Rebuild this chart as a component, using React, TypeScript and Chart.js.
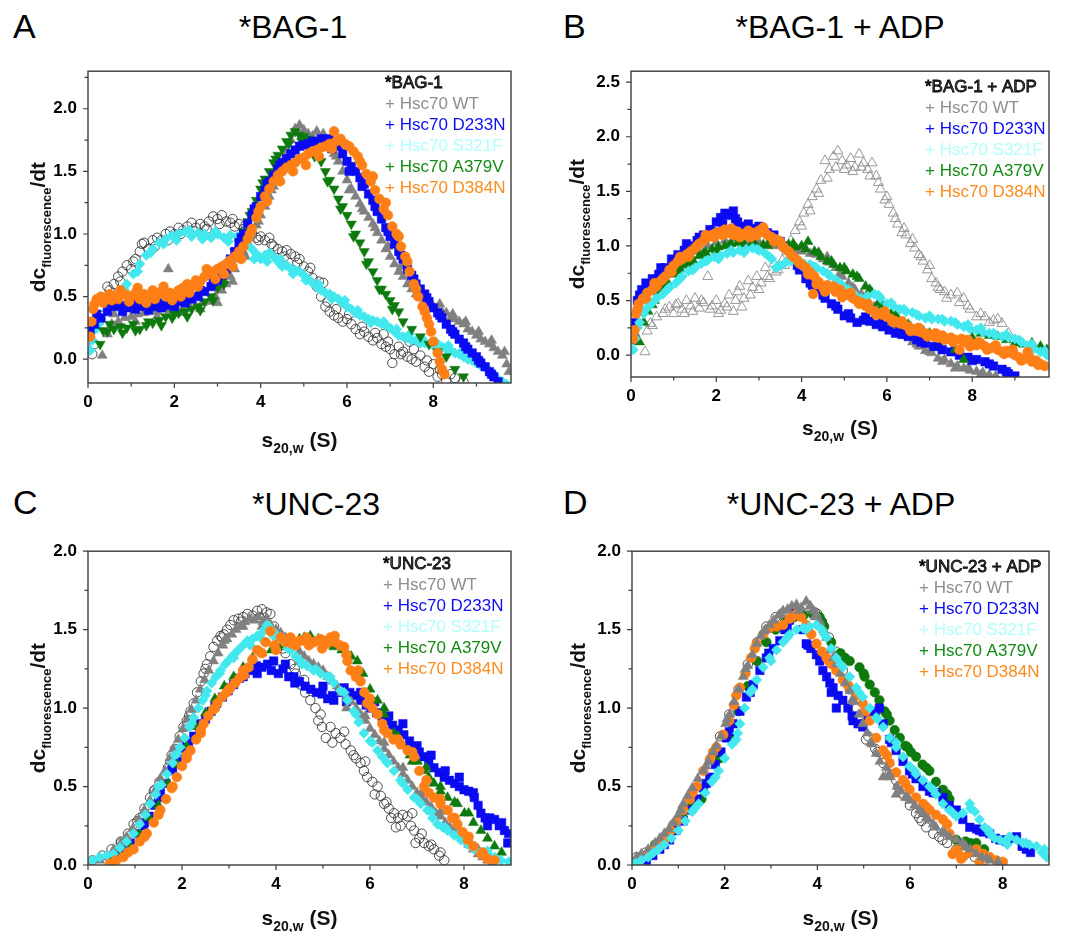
import React, { useEffect, useRef } from "react";
import { Chart, registerables } from "chart.js";
Chart.register(...registerables);

const FONT = "'Liberation Sans', Arial, Helvetica, sans-serif";

// ---------- tick values ----------
const X_MAJOR = [0, 2, 4, 6, 8];
const X_MINOR = [1, 3, 5, 7, 9];
const Y_MAJOR_A = [0, 0.5, 1, 1.5, 2];
const Y_MINOR_A = [0.25, 0.75, 1.25, 1.75, 2.25];
const Y_MAJOR_B = [0, 0.5, 1, 1.5, 2, 2.5];
const Y_MINOR_B = [0.25, 0.75, 1.25, 1.75, 2.25];
const Y_MAJOR_CD = [0, 0.5, 1, 1.5, 2];
const Y_MINOR_CD = [0.25, 0.75, 1.25, 1.75];

// ---------- legend ----------
const LEGEND_LINES = ["+ Hsc70 WT", "+ Hsc70 D233N", "+ Hsc70 S321F", "+ Hsc70 A379V", "+ Hsc70 D384N"];
const LEGEND_COLORS = ["#8e8e8e", "#0c0cf5", "#b2ffff", "#138a13", "#ff8a1e"];

// ---------- Panel A: *BAG-1 ----------
const A_REF = [[0.1,0.04],[0.15,0.12],[0.25,0.3],[0.3,0.42],[0.4,0.48],[0.5,0.55],[0.6,0.6],[0.7,0.66],[0.8,0.7],[0.9,0.75],[1.0,0.72],[1.1,0.8],[1.2,0.86],[1.3,0.93],[1.4,0.88],[1.5,0.95],[1.6,0.97],[1.7,0.95],[1.8,1.0],[1.9,1.02],[2.0,1.0],[2.1,1.05],[2.2,1.03],[2.3,1.06],[2.4,1.09],[2.5,1.05],[2.6,1.08],[2.7,1.06],[2.8,1.1],[2.9,1.14],[3.0,1.12],[3.1,1.15],[3.2,1.1],[3.3,1.09],[3.4,1.06],[3.5,1.08],[3.6,1.04],[3.7,1.02],[3.8,1.0],[3.9,0.97],[4.0,0.98],[4.1,0.95],[4.2,0.97],[4.3,0.9],[4.4,0.88],[4.5,0.86],[4.6,0.87],[4.7,0.84],[4.8,0.82],[4.9,0.8],[5.0,0.74],[5.1,0.7],[5.2,0.65],[5.3,0.58],[5.45,0.61],[5.4,0.5],[5.5,0.42],[5.6,0.38],[5.7,0.35],[5.8,0.33],[5.9,0.3],[6.0,0.32],[6.1,0.28],[6.2,0.24],[6.3,0.2],[6.4,0.22],[6.5,0.18],[6.6,0.15],[6.7,0.17],[6.8,0.12],[6.85,0.2],[6.9,0.1],[7.0,0.08],[7.05,-0.03],[7.1,0.04],[7.2,0.1],[7.3,0.06],[7.4,0.02],[7.45,0.14],[7.5,0.0],[7.6,-0.02],[7.7,0.03],[7.8,-0.06],[7.9,-0.1],[8.0,-0.04],[8.1,-0.14],[8.2,-0.12],[8.3,-0.17],[8.5,-0.15],[8.7,-0.18]];
const A_REF_2 = [[0.45,0.58],[0.75,0.62],[1.05,0.78],[1.25,0.92],[1.55,0.9],[1.85,0.95],[2.15,1.0],[2.45,1.02],[2.75,1.04],[3.05,1.08],[3.35,1.12],[3.65,1.07],[3.95,0.95],[4.25,0.92],[4.55,0.82],[4.85,0.77],[5.15,0.73],[5.35,0.62],[5.55,0.46],[5.75,0.4],[6.05,0.36],[6.35,0.26],[6.65,0.21],[6.95,0.14],[7.25,0.04],[7.55,0.08],[7.85,-0.01],[8.15,-0.08],[8.4,-0.12]];
const A_WT = [[0.33,0.03],[0.45,0.2],[0.55,0.28],[0.7,0.3],[0.85,0.33],[1.0,0.34],[1.15,0.36],[1.3,0.37],[1.45,0.39],[1.6,0.38],[1.75,0.4],[1.86,0.72],[1.9,0.39],[2.05,0.41],[2.2,0.4],[2.35,0.43],[2.5,0.42],[2.65,0.45],[2.8,0.46],[2.95,0.5],[3.1,0.55],[3.2,0.6],[3.3,0.66],[3.4,0.72],[3.5,0.8],[3.6,0.86],[3.7,0.92],[3.8,1.0],[3.9,1.07],[4.0,1.15],[4.1,1.22],[4.2,1.3],[4.3,1.38],[4.4,1.47],[4.5,1.56],[4.6,1.65],[4.7,1.75],[4.8,1.84],[4.9,1.87],[5.0,1.83],[5.1,1.8],[5.2,1.78],[5.3,1.82],[5.4,1.76],[5.5,1.72],[5.6,1.7],[5.7,1.64],[5.8,1.58],[5.9,1.5],[6.0,1.43],[6.1,1.36],[6.2,1.3],[6.3,1.24],[6.4,1.18],[6.5,1.13],[6.6,1.08],[6.7,1.01],[6.8,0.95],[6.9,0.88],[7.0,0.82],[7.1,0.76],[7.2,0.7],[7.3,0.66],[7.4,0.6],[7.5,0.56],[7.6,0.52],[7.7,0.5],[7.8,0.47],[7.9,0.44],[8.0,0.42],[8.1,0.4],[8.2,0.38],[8.3,0.37],[8.4,0.33],[8.5,0.32],[8.6,0.3],[8.7,0.28],[8.8,0.24],[8.9,0.22],[9.0,0.19],[9.1,0.16],[9.2,0.14],[9.3,0.12],[9.4,0.09],[9.5,0.06],[9.6,0.03],[9.7,-0.04],[9.75,-0.1]];
const A_WT_2 = [[0.6,0.36],[1.1,0.3],[1.6,0.34],[2.1,0.37],[2.6,0.4],[3.0,0.45],[3.35,0.62],[3.65,0.82],[3.95,1.1],[4.25,1.35],[4.55,1.6],[4.85,1.82],[5.15,1.76],[5.45,1.8],[5.75,1.62],[6.05,1.35],[6.35,1.2],[6.65,1.05],[6.95,0.9],[7.25,0.74],[7.55,0.6],[7.85,0.5],[8.15,0.44],[8.45,0.36],[8.75,0.3],[9.05,0.22],[9.35,0.15],[9.65,0.06]];
const A_D233N = [[0.05,0.23],[0.15,0.28],[0.3,0.33],[0.45,0.38],[0.6,0.42],[0.75,0.43],[0.9,0.41],[1.05,0.44],[1.2,0.42],[1.35,0.44],[1.5,0.42],[1.65,0.45],[1.8,0.43],[1.95,0.45],[2.1,0.46],[2.25,0.45],[2.4,0.48],[2.55,0.5],[2.7,0.54],[2.85,0.58],[3.0,0.63],[3.1,0.67],[3.2,0.72],[3.3,0.8],[3.4,0.86],[3.5,0.93],[3.6,1.0],[3.7,1.08],[3.8,1.15],[3.9,1.22],[4.0,1.3],[4.1,1.35],[4.2,1.42],[4.3,1.47],[4.4,1.52],[4.5,1.57],[4.6,1.6],[4.7,1.64],[4.8,1.67],[4.9,1.7],[5.0,1.71],[5.1,1.72],[5.2,1.74],[5.3,1.73],[5.4,1.76],[5.5,1.75],[5.6,1.76],[5.7,1.72],[5.8,1.7],[5.9,1.64],[6.0,1.58],[6.1,1.54],[6.2,1.5],[6.3,1.45],[6.4,1.4],[6.5,1.32],[6.6,1.27],[6.7,1.18],[6.8,1.12],[6.9,1.05],[7.0,0.98],[7.1,0.92],[7.2,0.86],[7.3,0.8],[7.4,0.72],[7.5,0.67],[7.6,0.6],[7.7,0.56],[7.8,0.52],[7.9,0.46],[8.0,0.41],[8.1,0.37],[8.2,0.33],[8.3,0.28],[8.4,0.24],[8.5,0.2],[8.6,0.16],[8.7,0.13],[8.8,0.08],[8.9,0.05],[9.0,0.02],[9.1,-0.03],[9.2,-0.06],[9.3,-0.1],[9.4,-0.14],[9.5,-0.18]];
const A_D233N_2 = [[0.2,0.36],[0.5,0.45],[0.8,0.38],[1.1,0.4],[1.4,0.39],[1.7,0.41],[2.0,0.42],[2.3,0.49],[2.6,0.55],[2.9,0.62],[3.25,0.76],[3.55,0.97],[3.85,1.2],[4.15,1.4],[4.45,1.55],[5.25,1.7],[5.65,1.68],[6.05,1.5],[6.35,1.38],[6.65,1.22],[6.95,1.02],[7.25,0.83],[7.55,0.64],[7.85,0.49],[8.15,0.35],[8.45,0.22],[8.75,0.1],[9.05,-0.01],[9.35,-0.12]];
const A_S321F = [[0.05,0.07],[0.1,0.15],[0.18,0.24],[0.3,0.32],[0.45,0.39],[0.6,0.46],[0.75,0.52],[0.9,0.6],[1.05,0.68],[1.2,0.76],[1.35,0.83],[1.5,0.88],[1.65,0.93],[1.8,0.96],[1.95,0.99],[2.1,1.0],[2.25,1.02],[2.4,0.98],[2.55,1.01],[2.7,1.0],[2.85,0.97],[3.0,1.0],[3.15,0.97],[3.3,0.99],[3.45,0.98],[3.6,0.96],[3.7,0.92],[3.8,0.88],[3.9,0.84],[4.0,0.8],[4.1,0.83],[4.2,0.85],[4.3,0.82],[4.4,0.78],[4.5,0.74],[4.6,0.75],[4.7,0.72],[4.8,0.71],[4.9,0.7],[5.0,0.67],[5.1,0.64],[5.2,0.61],[5.3,0.58],[5.4,0.55],[5.5,0.53],[5.6,0.52],[5.7,0.5],[5.8,0.48],[5.9,0.45],[6.0,0.42],[6.1,0.4],[6.2,0.37],[6.3,0.35],[6.4,0.34],[6.5,0.32],[6.6,0.31],[6.7,0.3],[6.8,0.28],[6.9,0.27],[7.0,0.25],[7.1,0.22],[7.2,0.19],[7.3,0.18],[7.4,0.17],[7.5,0.15],[7.6,0.15],[7.7,0.13],[7.8,0.13],[7.9,0.12],[8.0,0.11],[8.1,0.1],[8.2,0.1],[8.3,0.08],[8.4,0.07],[8.5,0.05],[8.6,0.04],[8.7,0.02],[8.8,0.0],[8.9,-0.01],[9.0,-0.03],[9.1,-0.05],[9.2,-0.06],[9.3,-0.09],[9.4,-0.12],[9.5,-0.16],[9.6,-0.18],[9.7,-0.2]];
const A_S321F_2 = [[0.25,0.28],[0.55,0.42],[0.85,0.55],[1.15,0.7],[1.45,0.85],[1.75,0.92],[2.05,0.95],[2.35,1.03],[2.65,0.96],[2.95,1.02],[3.25,0.94],[3.55,0.99],[3.85,0.8],[4.15,0.78],[4.45,0.8],[4.75,0.68],[5.05,0.63],[5.35,0.6],[5.65,0.48],[5.95,0.47],[6.25,0.39],[6.55,0.29],[6.85,0.3],[7.15,0.24],[7.45,0.2],[7.75,0.16],[8.05,0.14],[8.35,0.11],[8.65,0.06],[8.95,0.0],[9.25,-0.08]];
const A_A379V = [[0.28,0.12],[0.35,0.23],[0.45,0.22],[0.6,0.24],[0.75,0.26],[0.9,0.25],[1.05,0.28],[1.2,0.24],[1.35,0.27],[1.5,0.29],[1.65,0.31],[1.8,0.34],[1.95,0.33],[2.1,0.37],[2.25,0.38],[2.4,0.4],[2.55,0.42],[2.7,0.46],[2.85,0.5],[3.0,0.57],[3.1,0.62],[3.2,0.7],[3.3,0.78],[3.4,0.86],[3.5,0.93],[3.6,1.02],[3.7,1.1],[3.8,1.18],[3.9,1.27],[4.0,1.36],[4.1,1.44],[4.2,1.5],[4.3,1.57],[4.4,1.63],[4.5,1.68],[4.6,1.74],[4.7,1.79],[4.8,1.82],[4.9,1.79],[5.0,1.78],[5.1,1.76],[5.2,1.72],[5.3,1.64],[5.4,1.58],[5.5,1.5],[5.6,1.43],[5.7,1.36],[5.8,1.28],[5.9,1.22],[6.0,1.15],[6.1,1.08],[6.2,1.0],[6.3,0.93],[6.4,0.86],[6.5,0.78],[6.6,0.7],[6.7,0.63],[6.8,0.56],[6.9,0.52],[7.0,0.47],[7.1,0.43],[7.2,0.38],[7.3,0.3],[7.5,0.24],[7.7,0.18],[7.9,0.12],[8.1,0.06],[8.3,0.02],[8.5,-0.08],[8.7,-0.14]];
const A_A379V_2 = [[0.5,0.28],[0.8,0.21],[1.1,0.23],[1.4,0.3],[1.7,0.27],[2.0,0.36],[2.3,0.34],[2.6,0.39],[2.9,0.47],[3.15,0.6],[3.45,0.84],[3.75,1.15],[4.05,1.41],[4.35,1.6],[4.65,1.72],[4.95,1.74],[5.25,1.62],[5.55,1.42],[5.85,1.2],[6.15,0.98],[6.45,0.76],[6.75,0.56],[7.05,0.4]];
const A_D384N = [[0.05,0.18],[0.08,0.3],[0.12,0.4],[0.2,0.48],[0.3,0.5],[0.4,0.49],[0.5,0.52],[0.6,0.5],[0.7,0.48],[0.8,0.53],[0.9,0.51],[1.0,0.5],[1.1,0.53],[1.2,0.48],[1.3,0.52],[1.4,0.5],[1.5,0.55],[1.6,0.52],[1.7,0.54],[1.8,0.5],[1.9,0.53],[2.0,0.52],[2.1,0.55],[2.2,0.57],[2.3,0.6],[2.4,0.58],[2.5,0.63],[2.6,0.62],[2.7,0.66],[2.8,0.68],[2.9,0.7],[3.0,0.72],[3.1,0.74],[3.2,0.76],[3.3,0.79],[3.4,0.82],[3.5,0.86],[3.6,0.9],[3.7,0.96],[3.8,1.04],[3.9,1.13],[4.0,1.22],[4.1,1.3],[4.2,1.36],[4.3,1.42],[4.4,1.47],[4.5,1.5],[4.6,1.53],[4.7,1.55],[4.8,1.57],[4.9,1.6],[5.0,1.61],[5.1,1.64],[5.2,1.66],[5.3,1.67],[5.4,1.69],[5.5,1.7],[5.6,1.72],[5.7,1.82],[5.75,1.74],[5.85,1.76],[5.95,1.72],[6.05,1.7],[6.15,1.66],[6.25,1.62],[6.35,1.55],[6.45,1.48],[6.55,1.42],[6.65,1.35],[6.75,1.28],[6.85,1.2],[6.95,1.15],[7.05,1.06],[7.15,1.0],[7.25,0.9],[7.35,0.82],[7.45,0.7],[7.55,0.6],[7.65,0.5],[7.75,0.42],[7.85,0.33],[7.95,0.22],[8.0,0.14],[8.1,0.05],[8.15,-0.02],[8.2,-0.08],[8.26,-0.12]];
const A_D384N_2 = [[0.15,0.44],[0.35,0.45],[0.55,0.47],[0.75,0.55],[0.95,0.46],[1.15,0.57],[1.35,0.45],[1.55,0.48],[1.75,0.58],[1.95,0.47],[2.15,0.5],[2.35,0.53],[2.55,0.58],[2.75,0.72],[2.95,0.64],[3.15,0.68],[3.35,0.74],[3.55,0.8],[3.75,1.0],[3.95,1.18],[4.15,1.26],[4.45,1.42],[4.75,1.5],[5.05,1.55],[5.35,1.62],[5.65,1.68],[6.3,1.58],[6.6,1.46],[6.9,1.25],[7.2,0.98],[7.4,0.78],[7.6,0.56],[7.8,0.38],[7.9,0.28]];

// ---------- Panel B: *BAG-1 + ADP ----------
const B_REF = [[0.33,0.03],[0.38,0.22],[0.45,0.29],[0.6,0.35],[0.75,0.38],[0.9,0.44],[1.0,0.38],[1.1,0.47],[1.2,0.42],[1.3,0.5],[1.4,0.45],[1.5,0.52],[1.6,0.43],[1.7,0.48],[1.8,0.72],[1.9,0.45],[2.0,0.5],[2.1,0.41],[2.2,0.47],[2.3,0.55],[2.4,0.4],[2.5,0.58],[2.55,0.63],[2.65,0.52],[2.75,0.68],[2.85,0.62],[2.95,0.72],[3.05,0.66],[3.15,0.8],[3.25,0.7],[3.35,0.84],[3.45,0.78],[3.55,0.87],[3.65,0.95],[3.75,1.05],[3.85,1.14],[3.95,1.22],[4.05,1.3],[4.15,1.38],[4.25,1.45],[4.35,1.52],[4.45,1.6],[4.55,1.78],[4.65,1.7],[4.75,1.82],[4.85,1.87],[4.95,1.78],[5.05,1.74],[5.15,1.8],[5.25,1.72],[5.35,1.84],[5.45,1.76],[5.55,1.7],[5.65,1.76],[5.75,1.64],[5.85,1.52],[5.95,1.42],[6.05,1.38],[6.15,1.3],[6.25,1.2],[6.35,1.12],[6.45,1.1],[6.55,1.02],[6.65,0.98],[6.75,0.92],[6.85,0.86],[6.95,0.78],[7.05,0.7],[7.15,0.66],[7.25,0.6],[7.35,0.58],[7.5,0.55],[7.65,0.57],[7.8,0.52],[7.95,0.42],[8.1,0.35],[8.3,0.35],[8.5,0.32],[8.7,0.29],[8.85,0.2]];
const B_REF_2 = [[0.5,0.27],[0.8,0.42],[1.05,0.46],[1.25,0.38],[1.45,0.4],[1.65,0.5],[1.85,0.42],[2.05,0.38],[2.25,0.44],[2.45,0.5],[2.6,0.44],[2.8,0.55],[3.0,0.6],[3.2,0.72],[3.4,0.76],[3.6,0.82],[3.8,0.98],[4.0,1.18],[4.2,1.32],[4.4,1.48],[4.6,1.62],[4.8,1.72],[5.0,1.7],[5.2,1.68],[5.4,1.72],[5.6,1.64],[5.8,1.58],[6.0,1.45],[6.2,1.25],[6.4,1.16],[6.6,1.06],[6.8,0.9],[7.0,0.82],[7.2,0.62],[7.4,0.52],[7.7,0.48],[7.9,0.45],[8.2,0.38],[8.4,0.3],[8.6,0.33]];
const B_WT = [[0.1,0.2],[0.25,0.4],[0.4,0.5],[0.6,0.58],[0.8,0.66],[1.0,0.75],[1.2,0.82],[1.4,0.9],[1.6,0.95],[1.8,1.0],[2.0,1.03],[2.2,1.05],[2.4,1.07],[2.6,1.06],[2.8,1.05],[3.0,1.03],[3.2,1.02],[3.4,1.0],[3.6,0.98],[3.8,0.96],[4.0,0.95],[4.2,0.93],[4.35,0.92],[4.5,0.88],[4.65,0.85],[4.8,0.8],[4.95,0.72],[5.1,0.66],[5.25,0.6],[5.4,0.56],[5.55,0.5],[5.7,0.44],[5.85,0.36],[6.0,0.3],[6.15,0.25],[6.3,0.21],[6.45,0.18],[6.6,0.12],[6.75,0.08],[6.9,0.04],[7.05,0.02],[7.2,-0.03],[7.35,-0.04],[7.5,-0.08],[7.65,-0.1],[7.8,-0.12],[7.95,-0.14],[8.1,-0.15],[8.25,-0.16],[8.4,-0.18],[8.55,-0.19]];
const B_WT_2 = [[3.9,0.97],[4.3,0.93],[4.6,0.9],[4.9,0.75],[5.2,0.62],[5.5,0.52],[5.8,0.4],[6.1,0.27],[6.4,0.2],[6.7,0.1],[7.0,0.03],[7.3,-0.06],[7.6,-0.12],[7.9,-0.12],[8.2,-0.18],[8.8,-0.19]];
const B_D233N = [[0.05,0.14],[0.1,0.3],[0.15,0.5],[0.25,0.6],[0.35,0.66],[0.5,0.7],[0.65,0.74],[0.8,0.8],[0.95,0.88],[1.1,0.92],[1.25,0.96],[1.4,1.0],[1.55,1.05],[1.7,1.1],[1.85,1.15],[2.0,1.22],[2.1,1.26],[2.2,1.3],[2.3,1.28],[2.4,1.32],[2.5,1.22],[2.6,1.18],[2.75,1.2],[2.9,1.16],[3.05,1.15],[3.2,1.12],[3.35,1.1],[3.5,1.04],[3.65,0.98],[3.8,0.88],[3.95,0.78],[4.1,0.7],[4.25,0.64],[4.4,0.6],[4.55,0.52],[4.7,0.47],[4.85,0.42],[5.0,0.36],[5.15,0.34],[5.3,0.3],[5.45,0.32],[5.6,0.31],[5.75,0.28],[5.9,0.26],[6.05,0.23],[6.2,0.2],[6.35,0.19],[6.5,0.17],[6.7,0.14],[6.9,0.11],[7.1,0.08],[7.3,0.05],[7.5,0.03],[7.7,0.0],[7.9,-0.02],[8.1,-0.04],[8.3,-0.06],[8.5,-0.1],[8.7,-0.13],[8.85,-0.17],[9.0,-0.19]];
const B_D233N_2 = [[0.2,0.55],[0.4,0.6],[0.7,0.8],[1.0,0.84],[1.3,1.02],[1.6,1.08],[1.9,1.13],[2.15,1.2],[2.45,1.25],[2.7,1.16],[3.0,1.18],[3.3,1.08],[3.6,1.0],[3.9,0.82],[4.2,0.66],[4.5,0.55],[4.8,0.45],[5.1,0.38],[5.5,0.35],[5.9,0.3],[6.3,0.22],[6.8,0.12],[7.2,0.08],[7.6,0.04],[8.0,-0.05],[8.4,-0.08],[8.8,-0.15]];
const B_S321F = [[0.05,0.05],[0.1,0.15],[0.2,0.3],[0.3,0.38],[0.45,0.46],[0.6,0.52],[0.75,0.56],[0.9,0.62],[1.05,0.66],[1.2,0.72],[1.35,0.77],[1.5,0.8],[1.65,0.84],[1.8,0.87],[1.95,0.9],[2.1,0.91],[2.25,0.93],[2.4,0.94],[2.55,0.96],[2.7,0.97],[2.85,0.98],[3.0,0.96],[3.15,0.93],[3.3,0.88],[3.4,0.8],[3.5,0.82],[3.6,0.84],[3.75,0.86],[3.9,0.85],[4.05,0.84],[4.2,0.83],[4.35,0.8],[4.5,0.77],[4.65,0.73],[4.8,0.69],[4.95,0.64],[5.1,0.6],[5.25,0.55],[5.4,0.52],[5.55,0.54],[5.7,0.56],[5.85,0.52],[6.0,0.47],[6.15,0.45],[6.3,0.42],[6.45,0.4],[6.6,0.39],[6.75,0.36],[6.9,0.34],[7.05,0.33],[7.2,0.33],[7.35,0.31],[7.5,0.31],[7.65,0.28],[7.8,0.26],[7.95,0.24],[8.1,0.23],[8.25,0.21],[8.4,0.2],[8.55,0.18],[8.7,0.17],[8.85,0.16],[9.0,0.15],[9.15,0.12],[9.3,0.09],[9.45,0.06],[9.6,0.03],[9.75,0.0]];
const B_S321F_2 = [[0.15,0.25],[0.35,0.42],[0.55,0.5],[0.85,0.6],[1.15,0.7],[1.45,0.78],[1.75,0.86],[2.05,0.88],[2.35,0.96],[2.65,0.94],[2.95,0.97],[3.25,0.9],[3.45,0.82],[3.7,0.88],[4.0,0.82],[4.3,0.81],[4.6,0.75],[4.9,0.66],[5.2,0.57],[5.5,0.5],[5.8,0.55],[6.1,0.48],[6.4,0.42],[6.7,0.37],[7.0,0.36],[7.3,0.33],[7.6,0.3],[7.9,0.28],[8.2,0.25],[8.5,0.2],[8.8,0.19],[9.1,0.14],[9.4,0.1],[9.7,0.04]];
const B_A379V = [[0.2,0.12],[0.3,0.3],[0.4,0.4],[0.55,0.5],[0.7,0.58],[0.85,0.67],[1.0,0.74],[1.15,0.79],[1.3,0.83],[1.45,0.87],[1.6,0.91],[1.75,0.94],[1.9,0.97],[2.05,0.99],[2.2,1.0],[2.35,1.02],[2.5,1.03],[2.65,1.02],[2.8,1.0],[2.95,0.99],[3.1,1.01],[3.25,1.02],[3.4,1.03],[3.55,1.02],[3.7,1.01],[3.85,0.99],[4.0,1.0],[4.15,1.04],[4.3,0.95],[4.45,0.9],[4.6,0.86],[4.75,0.83],[4.9,0.8],[5.05,0.77],[5.2,0.74],[5.35,0.7],[5.5,0.63],[5.65,0.57],[5.8,0.48],[5.95,0.43],[6.1,0.38],[6.25,0.34],[6.4,0.3],[6.55,0.26],[6.7,0.24],[6.85,0.22],[7.0,0.2],[7.2,0.18],[7.4,0.14],[7.6,0.05],[7.8,-0.04],[8.0,0.16],[8.2,0.2],[8.4,0.18],[8.6,0.17],[8.8,0.14],[9.0,0.11],[9.2,0.1],[9.4,0.11],[9.6,0.08],[9.75,0.05]];
const B_A379V_2 = [[0.5,0.46],[0.8,0.63],[1.1,0.77],[1.4,0.85],[1.7,0.93],[2.0,0.96],[2.3,1.0],[2.6,1.0],[2.9,1.02],[3.2,1.0],[3.5,1.04],[3.8,1.02],[4.1,0.97],[4.4,0.94],[4.7,0.86],[5.0,0.8],[5.3,0.72],[5.6,0.6],[5.9,0.46],[6.2,0.36],[6.5,0.28],[6.8,0.23],[7.1,0.19]];
const B_D384N = [[0.05,0.15],[0.08,0.23],[0.12,0.38],[0.18,0.47],[0.28,0.52],[0.38,0.57],[0.5,0.6],[0.6,0.63],[0.7,0.68],[0.8,0.72],[0.9,0.78],[1.0,0.82],[1.1,0.86],[1.2,0.88],[1.3,0.92],[1.4,0.95],[1.5,0.98],[1.6,1.02],[1.7,1.05],[1.8,1.08],[1.9,1.1],[2.0,1.12],[2.1,1.13],[2.2,1.15],[2.3,1.12],[2.4,1.1],[2.5,1.13],[2.6,1.1],[2.7,1.12],[2.8,1.08],[2.9,1.12],[3.0,1.14],[3.1,1.17],[3.2,1.1],[3.3,1.08],[3.4,1.06],[3.5,1.04],[3.6,0.98],[3.7,0.95],[3.8,0.9],[3.9,0.87],[4.0,0.83],[4.1,0.8],[4.2,0.76],[4.27,0.56],[4.3,0.72],[4.4,0.67],[4.5,0.62],[4.6,0.64],[4.7,0.61],[4.8,0.58],[4.9,0.6],[5.0,0.56],[5.1,0.55],[5.2,0.52],[5.3,0.5],[5.4,0.48],[5.5,0.45],[5.6,0.42],[5.7,0.4],[5.8,0.38],[5.9,0.37],[6.0,0.35],[6.1,0.33],[6.2,0.31],[6.3,0.29],[6.4,0.28],[6.5,0.26],[6.6,0.24],[6.7,0.22],[6.8,0.21],[6.9,0.2],[7.0,0.19],[7.1,0.17],[7.2,0.16],[7.3,0.18],[7.4,0.15],[7.5,0.16],[7.6,0.14],[7.7,0.05],[7.8,0.12],[7.9,0.14],[8.0,0.1],[8.1,0.09],[8.2,0.11],[8.3,0.08],[8.4,0.06],[8.5,0.07],[8.6,0.05],[8.7,0.03],[8.8,0.04],[8.9,0.02],[9.0,0.0],[9.1,-0.02],[9.2,-0.04],[9.3,0.03],[9.4,-0.06],[9.5,-0.05],[9.6,-0.08],[9.7,-0.1]];
const B_D384N_2 = [[0.15,0.42],[0.35,0.52],[0.55,0.66],[0.75,0.7],[0.95,0.76],[1.15,0.9],[1.35,0.9],[1.55,1.0],[1.75,1.1],[1.95,1.08],[2.15,1.1],[2.35,1.16],[2.55,1.08],[2.75,1.14],[2.95,1.1],[3.15,1.12],[3.35,1.04],[3.55,1.0],[3.75,0.92],[3.95,0.84],[4.15,0.74],[4.35,0.65],[4.55,0.58],[4.75,0.63],[4.95,0.53],[5.15,0.57],[5.35,0.47],[5.55,0.47],[5.75,0.37],[5.95,0.4],[6.15,0.3],[6.35,0.31],[6.55,0.22],[6.75,0.25],[6.95,0.17],[7.15,0.2],[7.35,0.14],[7.55,0.12],[7.75,0.15],[7.95,0.08],[8.15,0.12],[8.35,0.05],[8.55,0.09],[8.75,0.01],[8.95,0.05],[9.15,-0.05],[9.35,-0.02],[9.55,-0.09]];

// ---------- Panel C: *UNC-23 ----------
const C_REF = [[0.1,0.03],[0.3,0.06],[0.5,0.1],[0.7,0.15],[0.85,0.2],[0.97,0.26],[1.1,0.3],[1.2,0.36],[1.32,0.43],[1.42,0.48],[1.52,0.53],[1.61,0.56],[1.7,0.62],[1.78,0.7],[1.85,0.74],[1.95,0.82],[2.03,0.88],[2.1,0.92],[2.18,0.98],[2.25,1.03],[2.32,1.1],[2.4,1.17],[2.46,1.22],[2.53,1.28],[2.6,1.33],[2.67,1.39],[2.75,1.43],[2.82,1.46],[2.89,1.47],[2.96,1.5],[3.03,1.53],[3.1,1.56],[3.2,1.57],[3.3,1.58],[3.39,1.6],[3.5,1.59],[3.6,1.62],[3.7,1.63],[3.8,1.61],[3.88,1.6],[3.96,1.52],[4.03,1.46],[4.1,1.41],[4.2,1.35],[4.31,1.28],[4.42,1.22],[4.52,1.15],[4.62,1.1],[4.73,1.05],[4.84,1.0],[4.95,0.96],[4.98,0.88],[5.06,0.81],[5.16,0.88],[5.27,0.84],[5.37,0.81],[5.48,0.77],[5.59,0.73],[5.7,0.68],[5.8,0.65],[5.87,0.6],[5.94,0.56],[6.05,0.53],[6.16,0.5],[6.23,0.44],[6.3,0.39],[6.4,0.36],[6.51,0.33],[6.55,0.24],[6.6,0.3],[6.7,0.32],[6.8,0.31],[6.87,0.25],[6.94,0.22],[6.97,0.14],[7.05,0.17],[7.15,0.14],[7.25,0.12],[7.36,0.1],[7.47,0.06],[7.58,0.03]];
const C_REF_2 = [[0.7,0.14],[1.05,0.28],[1.4,0.47],[1.75,0.66],[2.15,0.95],[2.5,1.25],[2.85,1.45],[3.25,1.55],[3.65,1.58],[4.15,1.38],[4.4,1.25],[4.6,1.18],[4.9,0.92],[5.2,0.78],[5.45,0.85],[5.65,0.7],[5.9,0.66],[6.1,0.45],[6.35,0.4],[6.45,0.3],[6.65,0.25],[6.9,0.33],[7.1,0.2],[7.3,0.13],[7.5,0.08]];
const C_WT = [[0.25,0.03],[0.4,0.06],[0.55,0.1],[0.7,0.14],[0.82,0.18],[0.95,0.23],[1.08,0.29],[1.2,0.35],[1.32,0.41],[1.44,0.48],[1.54,0.55],[1.64,0.6],[1.74,0.68],[1.82,0.74],[1.92,0.8],[2.02,0.87],[2.11,0.93],[2.2,0.99],[2.3,1.05],[2.39,1.12],[2.48,1.18],[2.57,1.24],[2.67,1.3],[2.77,1.35],[2.87,1.4],[2.96,1.44],[3.06,1.47],[3.15,1.5],[3.24,1.52],[3.34,1.55],[3.44,1.57],[3.53,1.56],[3.63,1.58],[3.72,1.55],[3.81,1.57],[3.9,1.52],[4.0,1.5],[4.1,1.48],[4.2,1.45],[4.3,1.42],[4.4,1.4],[4.5,1.36],[4.6,1.33],[4.7,1.3],[4.8,1.28],[4.9,1.26],[5.0,1.24],[5.1,1.2],[5.2,1.17],[5.3,1.14],[5.4,1.1],[5.5,1.07],[5.6,1.04],[5.7,1.0],[5.8,0.96],[5.9,0.92],[6.0,0.87],[6.1,0.83],[6.2,0.79],[6.3,0.74],[6.4,0.7],[6.5,0.66],[6.6,0.62],[6.7,0.58],[6.8,0.54],[6.9,0.5],[7.0,0.46],[7.1,0.43],[7.2,0.4],[7.3,0.37],[7.4,0.33],[7.5,0.31],[7.6,0.27],[7.7,0.24],[7.8,0.22],[7.9,0.19],[8.0,0.16],[8.1,0.13],[8.2,0.1],[8.3,0.07],[8.4,0.05],[8.5,0.03],[8.6,0.01]];
const C_WT_2 = [[2.9,1.43],[3.3,1.52],[3.7,1.52],[4.1,1.46],[4.5,1.3],[5.5,1.0],[5.9,0.95],[6.3,0.78],[6.7,0.62],[7.1,0.46],[7.5,0.34],[7.9,0.22],[8.3,0.1]];
const C_D233N = [[0.47,0.05],[0.6,0.08],[0.75,0.11],[0.9,0.14],[1.05,0.2],[1.18,0.25],[1.3,0.31],[1.42,0.38],[1.54,0.46],[1.66,0.52],[1.78,0.6],[1.9,0.66],[2.02,0.72],[2.14,0.78],[2.25,0.82],[2.38,0.87],[2.5,0.93],[2.62,0.98],[2.74,1.03],[2.86,1.07],[2.98,1.11],[3.1,1.15],[3.22,1.19],[3.34,1.22],[3.46,1.24],[3.58,1.27],[3.7,1.26],[3.82,1.28],[3.95,1.3],[4.05,1.22],[4.15,1.25],[4.27,1.2],[4.38,1.2],[4.5,1.17],[4.62,1.14],[4.74,1.12],[4.86,1.1],[4.98,1.09],[5.1,1.06],[5.23,1.05],[5.35,1.1],[5.45,1.13],[5.57,1.1],[5.68,1.08],[5.8,1.05],[5.92,1.02],[6.02,1.0],[6.14,0.97],[6.26,0.94],[6.37,0.92],[6.48,0.89],[6.6,0.86],[6.72,0.83],[6.84,0.79],[6.94,0.75],[7.05,0.72],[7.15,0.69],[7.25,0.66],[7.36,0.62],[7.47,0.59],[7.58,0.56],[7.69,0.54],[7.8,0.52],[7.9,0.5],[8.0,0.48],[8.1,0.47],[8.22,0.43],[8.3,0.38],[8.36,0.33],[8.45,0.3],[8.55,0.3],[8.65,0.29],[8.75,0.25],[8.86,0.22],[8.93,0.14]];
const C_D233N_2 = [[1.2,0.27],[1.5,0.43],[1.8,0.62],[2.1,0.76],[2.4,0.9],[2.7,1.01],[3.0,1.13],[3.3,1.2],[3.6,1.22],[3.9,1.24],[4.2,1.28],[4.4,1.16],[5.0,1.14],[5.2,1.08],[5.5,1.04],[5.8,1.1],[6.1,1.04],[6.4,0.95],[6.7,0.9],[7.0,0.76],[7.3,0.7],[7.6,0.6],[7.9,0.56],[8.2,0.46],[8.5,0.25],[8.8,0.27],[8.95,0.2]];
const C_S321F = [[0.1,0.03],[0.25,0.05],[0.4,0.06],[0.54,0.07],[0.68,0.11],[0.82,0.15],[0.97,0.2],[1.1,0.26],[1.22,0.32],[1.32,0.39],[1.44,0.45],[1.56,0.51],[1.68,0.58],[1.8,0.65],[1.9,0.71],[1.96,0.75],[2.06,0.81],[2.16,0.88],[2.25,0.94],[2.35,1.0],[2.44,1.05],[2.53,1.11],[2.63,1.16],[2.72,1.2],[2.82,1.24],[2.92,1.28],[3.01,1.31],[3.1,1.34],[3.2,1.37],[3.3,1.4],[3.39,1.43],[3.5,1.44],[3.6,1.46],[3.67,1.47],[3.75,1.5],[3.81,1.53],[3.9,1.5],[4.0,1.47],[4.1,1.45],[4.2,1.41],[4.31,1.37],[4.42,1.33],[4.52,1.3],[4.66,1.27],[4.8,1.24],[4.95,1.22],[5.09,1.2],[5.23,1.16],[5.37,1.11],[5.52,1.05],[5.66,0.98],[5.76,0.91],[5.87,0.84],[6.0,0.79],[6.16,0.73],[6.26,0.69],[6.37,0.65],[6.51,0.6],[6.65,0.54],[6.8,0.48],[6.94,0.43],[7.08,0.39],[7.22,0.35],[7.33,0.3],[7.44,0.26],[7.55,0.24],[7.65,0.22],[7.79,0.19],[7.93,0.16],[8.08,0.13],[8.22,0.1],[8.36,0.08],[8.5,0.07],[8.65,0.05],[8.79,0.03],[8.95,0.02]];
const C_S321F_2 = [[1.5,0.5],[1.85,0.7],[2.2,0.9],[2.5,1.08],[2.8,1.22],[3.1,1.32],[3.45,1.4],[3.7,1.44],[3.95,1.46],[4.25,1.38],[4.55,1.28],[4.85,1.25],[5.15,1.2],[5.45,1.1],[5.7,0.96],[6.05,0.78],[6.35,0.66],[6.7,0.52],[7.0,0.42],[7.3,0.34],[7.6,0.24],[7.9,0.2],[8.2,0.12],[8.5,0.09]];
const C_A379V = [[0.5,0.03],[0.7,0.06],[0.9,0.12],[1.1,0.2],[1.3,0.3],[1.5,0.38],[1.7,0.52],[1.9,0.64],[2.1,0.76],[2.3,0.88],[2.5,0.97],[2.7,1.06],[2.9,1.14],[3.1,1.2],[3.3,1.26],[3.5,1.32],[3.7,1.35],[3.9,1.37],[4.1,1.39],[4.3,1.42],[4.5,1.44],[4.73,1.46],[4.9,1.44],[5.05,1.42],[5.23,1.39],[5.4,1.37],[5.6,1.33],[5.73,1.3],[5.85,1.22],[6.0,1.12],[6.16,1.05],[6.3,0.96],[6.51,0.84],[6.7,0.76],[6.85,0.7],[7.01,0.66],[7.15,0.6],[7.25,0.56],[7.36,0.52],[7.5,0.47],[7.65,0.43],[7.86,0.39],[8.01,0.33],[8.2,0.27],[8.36,0.22],[8.5,0.17],[8.65,0.12],[8.8,0.08]];
const C_A379V_2 = [[4.6,1.45],[5.0,1.42],[5.5,1.35],[6.3,1.0],[6.6,0.82],[6.9,0.66],[7.2,0.62],[7.5,0.5],[7.8,0.4],[8.1,0.33]];
const C_D384N = [[0.47,0.01],[0.6,0.03],[0.75,0.05],[0.85,0.08],[0.97,0.1],[1.1,0.15],[1.25,0.2],[1.4,0.27],[1.54,0.35],[1.66,0.42],[1.78,0.49],[1.89,0.56],[2.0,0.63],[2.1,0.68],[2.18,0.73],[2.3,0.8],[2.4,0.86],[2.46,0.9],[2.56,0.95],[2.66,0.99],[2.75,1.03],[2.85,1.07],[2.95,1.1],[3.03,1.13],[3.13,1.16],[3.22,1.19],[3.32,1.21],[3.42,1.26],[3.5,1.31],[3.6,1.37],[3.7,1.35],[3.78,1.42],[3.88,1.49],[3.97,1.4],[4.1,1.45],[4.2,1.42],[4.31,1.45],[4.42,1.4],[4.5,1.43],[4.59,1.43],[4.7,1.4],[4.8,1.42],[4.88,1.43],[4.98,1.38],[5.08,1.41],[5.16,1.45],[5.26,1.42],[5.36,1.4],[5.45,1.39],[5.52,1.3],[5.59,1.24],[5.7,1.2],[5.8,1.17],[5.88,1.1],[5.94,1.03],[6.05,1.0],[6.16,0.96],[6.26,0.9],[6.37,0.84],[6.5,0.8],[6.65,0.77],[6.8,0.73],[6.94,0.69],[7.05,0.6],[7.15,0.5],[7.25,0.46],[7.36,0.43],[7.5,0.39],[7.65,0.35],[7.75,0.3],[7.86,0.26],[7.97,0.21],[8.08,0.16],[8.2,0.12],[8.36,0.07],[8.5,0.04],[8.65,0.03]];
const C_D384N_2 = [[1.2,0.18],[1.5,0.32],[1.8,0.5],[2.1,0.7],[2.4,0.84],[2.7,1.0],[3.0,1.12],[3.3,1.24],[4.0,1.37],[4.35,1.41],[4.65,1.45],[4.95,1.44],[5.25,1.46],[5.5,1.34],[5.75,1.24],[6.0,1.06],[6.3,0.86],[6.6,0.8],[6.9,0.72],[7.2,0.54],[7.5,0.42],[7.8,0.3],[8.1,0.18],[8.4,0.08]];

// ---------- Panel D: *UNC-23 + ADP ----------
const D_REF = [[0.1,0.05],[0.3,0.08],[0.5,0.12],[0.7,0.18],[0.9,0.26],[1.1,0.36],[1.3,0.46],[1.5,0.56],[1.7,0.68],[1.9,0.82],[2.1,0.96],[2.3,1.12],[2.5,1.28],[2.7,1.42],[2.9,1.52],[3.1,1.58],[3.3,1.6],[3.5,1.62],[3.7,1.63],[3.85,1.62],[4.0,1.6],[4.1,1.55],[4.25,1.45],[4.4,1.36],[4.55,1.24],[4.7,1.12],[4.85,1.0],[4.98,0.9],[5.1,0.82],[5.25,0.74],[5.42,0.65],[5.56,0.58],[5.7,0.54],[5.85,0.45],[6.0,0.38],[6.13,0.33],[6.25,0.28],[6.35,0.24],[6.5,0.2],[6.63,0.18],[6.8,0.14],[7.0,0.1],[7.2,0.07],[7.4,0.05],[7.6,0.03]];
const D_REF_2 = [[3.4,1.6],[3.95,1.61],[4.5,1.28],[4.9,0.95],[5.05,0.8],[5.3,0.72],[5.75,0.5],[6.2,0.3],[6.7,0.16],[7.1,0.08]];
const D_WT = [[0.1,0.05],[0.2,0.07],[0.35,0.1],[0.5,0.14],[0.6,0.17],[0.7,0.2],[0.8,0.23],[0.9,0.27],[1.0,0.32],[1.11,0.39],[1.2,0.44],[1.3,0.49],[1.42,0.55],[1.54,0.6],[1.65,0.66],[1.75,0.72],[1.82,0.76],[1.92,0.82],[2.02,0.9],[2.11,0.96],[2.2,1.04],[2.3,1.12],[2.4,1.2],[2.5,1.27],[2.6,1.34],[2.69,1.41],[2.78,1.46],[2.88,1.5],[2.97,1.53],[3.06,1.56],[3.16,1.59],[3.26,1.62],[3.36,1.63],[3.45,1.65],[3.55,1.66],[3.65,1.64],[3.76,1.68],[3.85,1.65],[3.92,1.62],[3.98,1.6],[4.06,1.55],[4.13,1.5],[4.2,1.45],[4.3,1.37],[4.41,1.28],[4.5,1.22],[4.6,1.16],[4.7,1.11],[4.8,1.04],[4.9,0.96],[4.98,0.9],[5.08,0.84],[5.18,0.77],[5.27,0.71],[5.35,0.66],[5.42,0.56],[5.49,0.62],[5.58,0.56],[5.7,0.45],[5.72,0.5],[5.8,0.47],[5.9,0.43],[5.99,0.41],[6.1,0.38],[6.2,0.35],[6.28,0.33],[6.4,0.29],[6.5,0.26],[6.56,0.24],[6.7,0.21],[6.85,0.18],[7.0,0.16],[7.14,0.14],[7.3,0.1],[7.43,0.07],[7.55,0.05],[7.72,0.03],[7.9,0.02]];
const D_WT_2 = [[1.05,0.35],[1.6,0.63],[2.05,0.93],[2.45,1.25],[2.85,1.49],[3.2,1.6],[3.6,1.62],[3.95,1.58],[4.35,1.32],[4.75,1.05],[5.15,0.78],[5.55,0.58],[5.95,0.43],[6.35,0.3],[6.75,0.2],[7.2,0.12],[7.65,0.04]];
const D_D233N = [[0.31,0.03],[0.45,0.06],[0.6,0.1],[0.7,0.13],[0.81,0.16],[0.95,0.22],[1.1,0.28],[1.25,0.35],[1.4,0.42],[1.54,0.49],[1.68,0.56],[1.8,0.64],[1.92,0.72],[2.04,0.81],[2.18,0.9],[2.33,0.98],[2.47,1.07],[2.62,1.15],[2.76,1.24],[2.9,1.32],[3.05,1.38],[3.19,1.43],[3.3,1.5],[3.4,1.56],[3.48,1.62],[3.58,1.6],[3.69,1.5],[3.76,1.41],[3.86,1.38],[3.98,1.34],[4.05,1.3],[4.12,1.24],[4.2,1.2],[4.27,1.16],[4.34,1.13],[4.41,1.0],[4.45,1.08],[4.55,1.05],[4.66,1.0],[4.77,0.92],[4.88,0.9],[4.98,0.88],[5.1,0.95],[5.2,0.97],[5.34,1.0],[5.42,0.9],[5.56,0.8],[5.7,0.73],[5.85,0.66],[5.99,0.6],[6.13,0.55],[6.28,0.5],[6.42,0.47],[6.56,0.46],[6.71,0.43],[6.85,0.38],[7.0,0.33],[7.14,0.29],[7.29,0.24],[7.44,0.23],[7.58,0.21],[7.72,0.2],[7.85,0.17],[7.94,0.16],[8.0,0.01],[8.08,0.15],[8.2,0.17],[8.3,0.18],[8.42,0.12],[8.51,0.1],[8.6,0.08]];
const D_D233N_2 = [[1.6,0.52],[2.1,0.85],[2.55,1.1],[2.95,1.35],[3.35,1.52],[3.8,1.4],[4.3,1.1],[4.75,0.95],[5.25,0.98],[5.6,0.78],[6.05,0.58],[6.5,0.46],[7.0,0.35],[7.5,0.22],[8.1,0.16],[8.45,0.12]];
const D_S321F = [[0.07,0.01],[0.2,0.03],[0.35,0.05],[0.47,0.08],[0.57,0.1],[0.7,0.13],[0.85,0.17],[1.0,0.22],[1.15,0.28],[1.3,0.34],[1.44,0.39],[1.58,0.46],[1.72,0.53],[1.87,0.6],[2.0,0.68],[2.16,0.77],[2.28,0.84],[2.33,0.9],[2.43,1.0],[2.55,1.1],[2.69,1.18],[2.83,1.26],[2.97,1.32],[3.12,1.37],[3.26,1.42],[3.4,1.47],[3.55,1.5],[3.69,1.51],[3.83,1.52],[3.98,1.53],[4.1,1.5],[4.2,1.45],[4.3,1.38],[4.41,1.32],[4.55,1.26],[4.7,1.2],[4.84,1.13],[4.98,1.07],[5.13,1.0],[5.27,0.94],[5.42,0.88],[5.56,0.81],[5.7,0.75],[5.85,0.69],[5.99,0.63],[6.13,0.58],[6.28,0.54],[6.42,0.5],[6.56,0.45],[6.71,0.39],[6.85,0.35],[7.0,0.31],[7.14,0.33],[7.29,0.39],[7.4,0.34],[7.5,0.29],[7.61,0.24],[7.72,0.2],[7.83,0.17],[7.94,0.16],[8.05,0.15],[8.15,0.18],[8.3,0.16],[8.44,0.14],[8.58,0.13],[8.73,0.12],[8.85,0.08],[8.95,0.05]];
const D_S321F_2 = [[1.35,0.36],[1.8,0.56],[2.25,0.8],[2.6,1.12],[3.0,1.3],[3.35,1.45],[3.75,1.5],[4.15,1.47],[4.5,1.28],[4.9,1.1],[5.3,0.93],[5.7,0.78],[6.1,0.6],[6.5,0.48],[6.9,0.34],[7.3,0.36],[7.7,0.22],[8.1,0.13],[8.5,0.14],[8.9,0.1]];
const D_A379V = [[0.5,0.13],[0.7,0.16],[0.9,0.22],[1.1,0.3],[1.3,0.38],[1.5,0.42],[1.7,0.55],[1.9,0.68],[2.1,0.82],[2.3,0.98],[2.5,1.14],[2.7,1.3],[2.9,1.42],[3.1,1.5],[3.3,1.55],[3.5,1.58],[3.7,1.59],[3.9,1.6],[4.05,1.58],[4.15,1.52],[4.3,1.42],[4.5,1.35],[4.7,1.3],[4.91,1.26],[5.02,1.2],[5.13,1.15],[5.24,1.1],[5.34,1.05],[5.45,0.98],[5.56,0.92],[5.67,0.86],[5.78,0.81],[5.9,0.76],[6.02,0.72],[6.13,0.69],[6.27,0.64],[6.42,0.6],[6.56,0.53],[6.71,0.48],[6.85,0.42],[7.0,0.16],[7.2,0.15],[7.43,0.14],[7.6,0.1]];
const D_A379V_2 = [[4.1,1.55],[4.6,1.32],[5.0,1.22],[5.5,0.96],[5.95,0.75],[6.35,0.62],[6.8,0.45],[7.3,0.14]];
const D_D384N = [[0.17,0.03],[0.3,0.06],[0.45,0.09],[0.57,0.12],[0.7,0.16],[0.84,0.22],[0.97,0.28],[1.11,0.35],[1.25,0.42],[1.4,0.5],[1.54,0.6],[1.68,0.67],[1.82,0.75],[1.97,0.83],[2.1,0.92],[2.2,1.02],[2.33,1.13],[2.45,1.22],[2.57,1.32],[2.69,1.41],[2.83,1.47],[2.97,1.51],[3.12,1.52],[3.26,1.53],[3.4,1.57],[3.55,1.6],[3.65,1.58],[3.76,1.53],[3.87,1.47],[3.98,1.41],[4.1,1.36],[4.2,1.32],[4.31,1.28],[4.41,1.24],[4.55,1.18],[4.7,1.13],[4.84,1.08],[4.98,1.03],[5.13,0.92],[5.27,0.81],[5.42,0.73],[5.56,0.65],[5.7,0.59],[5.85,0.54],[5.99,0.48],[6.13,0.43],[6.28,0.39],[6.42,0.35],[6.56,0.32],[6.71,0.29],[6.85,0.2],[6.92,0.07],[7.03,0.1],[7.14,0.05],[7.29,0.08],[7.43,0.1],[7.58,0.07],[7.72,0.05],[7.86,0.03],[8.0,0.02]];
const D_D384N_2 = [[1.3,0.46],[1.75,0.72],[2.25,1.08],[2.65,1.38],[3.05,1.53],[3.45,1.58],[3.8,1.5],[4.25,1.3],[4.65,1.15],[5.05,0.98],[5.5,0.7],[5.9,0.52],[6.35,0.37],[6.8,0.26],[7.1,0.04],[7.5,0.02]];

// ---------- marker styles ----------
type Style = { shape: string; r: number; rot?: number; fill: string; stroke: string; bw: number };
const ST_REF_C: Style = { shape: "circle", r: 4.7, fill: "rgba(255,255,255,0)", stroke: "#3a3a3a", bw: 0.9 };
const ST_REF_T: Style = { shape: "triangle", r: 5.8, fill: "rgba(255,255,255,0)", stroke: "#8c8c8c", bw: 0.9 };
const ST_WT: Style = { shape: "triangle", r: 5.8, fill: "#808080", stroke: "#808080", bw: 0.5 };
const ST_D233N: Style = { shape: "rect", r: 6, fill: "#0b0bf2", stroke: "#0b0bf2", bw: 0.5 };
const ST_S321F: Style = { shape: "rectRot", r: 5.2, fill: "#42e8ee", stroke: "#42e8ee", bw: 0.5 };
const ST_A379V_DN: Style = { shape: "triangle", r: 5.8, rot: 180, fill: "#0e7a0e", stroke: "#0e7a0e", bw: 0.5 };
const ST_A379V_UP: Style = { shape: "triangle", r: 5.8, fill: "#0e7a0e", stroke: "#0e7a0e", bw: 0.5 };
const ST_A379V_CI: Style = { shape: "circle", r: 4.8, fill: "#0e7a0e", stroke: "#0e7a0e", bw: 0.5 };
const ST_D384N: Style = { shape: "circle", r: 4.9, fill: "#ff7f17", stroke: "#ff7f17", bw: 0.5 };

type Series = { pts: number[][]; st: Style };
type PanelCfg = {
  letter: string; title: string; refLabel: string;
  letterPos: [number, number]; titlePos: [number, number];
  plot: [number, number, number, number];
  canvas: [number, number, number, number];
  xMax: number; yMin: number; yMax: number;
  yMajor: number[]; yMinor: number[];
  legendAt: [number, number];
  yTitleGap: number; xTitleGap: number;
  series: Series[]; // first = on top
};

const PANELS: PanelCfg[] = [
  {
    letter: "A", title: "*BAG-1", refLabel: "*BAG-1",
    letterPos: [13, 38], titlePos: [293, 38],
    plot: [88, 69, 511, 383], canvas: [0, 50, 530, 410],
    xMax: 9.8, yMin: -0.19, yMax: 2.3, yMajor: Y_MAJOR_A, yMinor: Y_MINOR_A,
    legendAt: [385, 83], yTitleGap: 43, xTitleGap: 64,
    series: [
      { pts: [...A_D384N, ...A_D384N_2], st: ST_D384N },
      { pts: [...A_D233N, ...A_D233N_2], st: ST_D233N },
      { pts: [...A_A379V, ...A_A379V_2], st: ST_A379V_DN },
      { pts: [...A_S321F, ...A_S321F_2], st: ST_S321F },
      { pts: [...A_WT, ...A_WT_2], st: ST_WT },
      { pts: [...A_REF, ...A_REF_2], st: ST_REF_C },
    ],
  },
  {
    letter: "B", title: "*BAG-1 + ADP", refLabel: "*BAG-1 + ADP",
    letterPos: [563, 38], titlePos: [840, 38],
    plot: [631, 70, 1049, 377], canvas: [540, 50, 525, 410],
    xMax: 9.8, yMin: -0.2, yMax: 2.6, yMajor: Y_MAJOR_B, yMinor: Y_MINOR_B,
    legendAt: [925, 87], yTitleGap: 47, xTitleGap: 58,
    series: [
      { pts: [...B_D384N, ...B_D384N_2], st: ST_D384N },
      { pts: [...B_S321F, ...B_S321F_2], st: ST_S321F },
      { pts: [...B_A379V, ...B_A379V_2], st: ST_A379V_UP },
      { pts: [...B_D233N, ...B_D233N_2], st: ST_D233N },
      { pts: [...B_WT, ...B_WT_2], st: ST_WT },
      { pts: [...B_REF, ...B_REF_2], st: ST_REF_T },
    ],
  },
  {
    letter: "C", title: "*UNC-23", refLabel: "*UNC-23",
    letterPos: [13, 514], titlePos: [316, 515],
    plot: [88, 550, 511, 865], canvas: [0, 530, 530, 402],
    xMax: 9, yMin: 0, yMax: 2, yMajor: Y_MAJOR_CD, yMinor: Y_MINOR_CD,
    legendAt: [383, 564], yTitleGap: 43, xTitleGap: 60,
    series: [
      { pts: [...C_D384N, ...C_D384N_2], st: ST_D384N },
      { pts: [...C_S321F, ...C_S321F_2], st: ST_S321F },
      { pts: [...C_A379V, ...C_A379V_2], st: ST_A379V_UP },
      { pts: [...C_WT, ...C_WT_2], st: ST_WT },
      { pts: [...C_D233N, ...C_D233N_2], st: ST_D233N },
      { pts: [...C_REF, ...C_REF_2], st: ST_REF_C },
    ],
  },
  {
    letter: "D", title: "*UNC-23 + ADP", refLabel: "*UNC-23 + ADP",
    letterPos: [563, 514], titlePos: [841, 515],
    plot: [632, 550, 1049, 865], canvas: [540, 530, 525, 402],
    xMax: 9, yMin: 0, yMax: 2, yMajor: Y_MAJOR_CD, yMinor: Y_MINOR_CD,
    legendAt: [919, 567], yTitleGap: 47, xTitleGap: 60,
    series: [
      { pts: [...D_S321F, ...D_S321F_2], st: ST_S321F },
      { pts: [...D_WT, ...D_WT_2], st: ST_WT },
      { pts: [...D_D384N, ...D_D384N_2], st: ST_D384N },
      { pts: [...D_D233N, ...D_D233N_2], st: ST_D233N },
      { pts: [...D_A379V, ...D_A379V_2], st: ST_A379V_CI },
      { pts: [...D_REF, ...D_REF_2], st: ST_REF_C },
    ],
  },
];

function decoPlugin(p: PanelCfg) {
  return {
    id: "deco" + p.letter,
    afterDatasetsDraw(chart: any) {
      const { ctx, chartArea } = chart;
      const { left, top, right, bottom } = chartArea;
      const xs = chart.scales.x;
      const ys = chart.scales.y;
      ctx.save();
      // frame
      ctx.strokeStyle = "#3d3d3d";
      ctx.lineWidth = 1.4;
      ctx.strokeRect(left, top, right - left, bottom - top);
      // ticks
      ctx.lineWidth = 1.2;
      ctx.beginPath();
      for (const v of X_MAJOR) {
        const px = xs.getPixelForValue(v);
        ctx.moveTo(px, bottom); ctx.lineTo(px, bottom + 5);
      }
      for (const v of X_MINOR) {
        if (v >= p.xMax) continue;
        const px = xs.getPixelForValue(v);
        ctx.moveTo(px, bottom); ctx.lineTo(px, bottom + 3.5);
      }
      for (const v of p.yMajor) {
        const py = ys.getPixelForValue(v);
        ctx.moveTo(left, py); ctx.lineTo(left - 5, py);
      }
      for (const v of p.yMinor) {
        if (v >= p.yMax) continue;
        const py = ys.getPixelForValue(v);
        ctx.moveTo(left, py); ctx.lineTo(left - 3.5, py);
      }
      ctx.stroke();

      // legend
      const lx = p.legendAt[0] - p.canvas[0];
      const ly = p.legendAt[1] - p.canvas[1];
      ctx.font = `17px ${FONT}`;
      ctx.textAlign = "left";
      ctx.textBaseline = "middle";
      ctx.fillStyle = "#4a4a4a";
      ctx.strokeStyle = "#000";
      ctx.lineWidth = 0.8;
      ctx.fillText(p.refLabel, lx, ly);
      ctx.strokeText(p.refLabel, lx, ly);
      LEGEND_LINES.forEach((t, i) => {
        ctx.fillStyle = LEGEND_COLORS[i];
        ctx.fillText(t, lx, ly + 21 * (i + 1));
      });

      // y axis title (rotated)
      ctx.fillStyle = "#111";
      ctx.textBaseline = "alphabetic";
      const main = `bold 21px ${FONT}`;
      const sub = `bold 13px ${FONT}`;
      ctx.font = main;
      const w1 = ctx.measureText("dc").width;
      const w3 = ctx.measureText("/dt").width;
      ctx.font = sub;
      const w2 = ctx.measureText("fluorescence").width;
      const tot = w1 + w2 + w3;
      ctx.save();
      ctx.translate(left - p.yTitleGap, (top + bottom) / 2);
      ctx.rotate(-Math.PI / 2);
      let sx = -tot / 2;
      ctx.font = main; ctx.fillText("dc", sx, 0); sx += w1;
      ctx.font = sub; ctx.fillText("fluorescence", sx, 6); sx += w2;
      ctx.font = main; ctx.fillText("/dt", sx, 0);
      ctx.restore();

      // x axis title
      ctx.font = main;
      const a1 = ctx.measureText("s").width;
      const a3 = ctx.measureText(" (S)").width;
      ctx.font = `bold 14px ${FONT}`;
      const a2 = ctx.measureText("20,w").width;
      const bx = (left + right) / 2 - (a1 + a2 + a3) / 2;
      const by = bottom + p.xTitleGap;
      ctx.font = main; ctx.fillText("s", bx, by);
      ctx.font = `bold 14px ${FONT}`; ctx.fillText("20,w", bx + a1, by + 6);
      ctx.font = main; ctx.fillText(" (S)", bx + a1 + a2, by);
      ctx.restore();
    },
  };
}

function PanelChart({ p }: { p: PanelCfg }) {
  const ref = useRef<HTMLCanvasElement>(null);
  useEffect(() => {
    const [cl, ct, cw, ch] = p.canvas;
    const [pl, pt, pr, pb] = p.plot;
    const yW = pl - cl;
    const padTop = pt - ct;
    const padRight = cl + cw - pr;
    const xH = ct + ch - pb;
    const datasets = p.series.map((s, i) => ({
      label: "s" + i,
      data: s.pts.map(([x, y]) => ({ x, y })),
      pointStyle: s.st.shape,
      pointRadius: s.st.r,
      pointRotation: s.st.rot || 0,
      backgroundColor: s.st.fill,
      borderColor: s.st.stroke,
      borderWidth: s.st.bw,
      showLine: false,
      clip: 0,
    }));
    const tickFont = { family: FONT, size: 17, weight: "bold" as const };
    const chart = new Chart(ref.current as HTMLCanvasElement, {
      type: "scatter",
      data: { datasets: datasets as any },
      options: {
        animation: false,
        responsive: false,
        events: [],
        layout: { padding: { left: 0, top: padTop, right: padRight, bottom: 0 } },
        plugins: { legend: { display: false }, tooltip: { enabled: false }, title: { display: false } },
        scales: {
          x: {
            type: "linear", min: 0, max: p.xMax,
            grid: { display: false, drawTicks: false },
            border: { display: false },
            ticks: {
              font: tickFont, color: "#000", padding: 9, autoSkip: false, maxRotation: 0,
              callback: (v: any) => String(v),
            },
            afterBuildTicks: (s: any) => { s.ticks = X_MAJOR.map((v) => ({ value: v })); },
            afterFit: (s: any) => { s.height = xH; },
          },
          y: {
            type: "linear", min: p.yMin, max: p.yMax,
            grid: { display: false, drawTicks: false },
            border: { display: false },
            ticks: {
              font: tickFont, color: "#000", padding: 11, autoSkip: false,
              callback: (v: any) => Number(v).toFixed(1),
            },
            afterBuildTicks: (s: any) => { s.ticks = p.yMajor.map((v) => ({ value: v })); },
            afterFit: (s: any) => { s.width = yW; },
          },
        },
      } as any,
      plugins: [decoPlugin(p)],
    });
    return () => chart.destroy();
  }, [p]);
  const [cl, ct, cw, ch] = p.canvas;
  return (
    <canvas
      ref={ref}
      width={cw}
      height={ch}
      style={{ position: "absolute", left: cl, top: ct, width: cw, height: ch }}
    />
  );
}

function textStyle(pos: [number, number], size: number, center: boolean): React.CSSProperties {
  return {
    position: "absolute",
    left: pos[0],
    top: pos[1] - 0.8465 * size,
    fontSize: size,
    lineHeight: `${size}px`,
    fontFamily: FONT,
    color: "#000",
    whiteSpace: "nowrap",
    transform: center ? "translateX(-50%)" : undefined,
  };
}

export default function App() {
  return (
    <div style={{ position: "absolute", left: 0, top: 0, width: 1065, height: 932, background: "#fff", overflow: "hidden" }}>
      {PANELS.map((p) => (
        <React.Fragment key={p.letter}>
          <div style={textStyle(p.letterPos, 34, false)}>{p.letter}</div>
          <div style={textStyle(p.titlePos, 32, true)}>{p.title}</div>
          <PanelChart p={p} />
        </React.Fragment>
      ))}
    </div>
  );
}
